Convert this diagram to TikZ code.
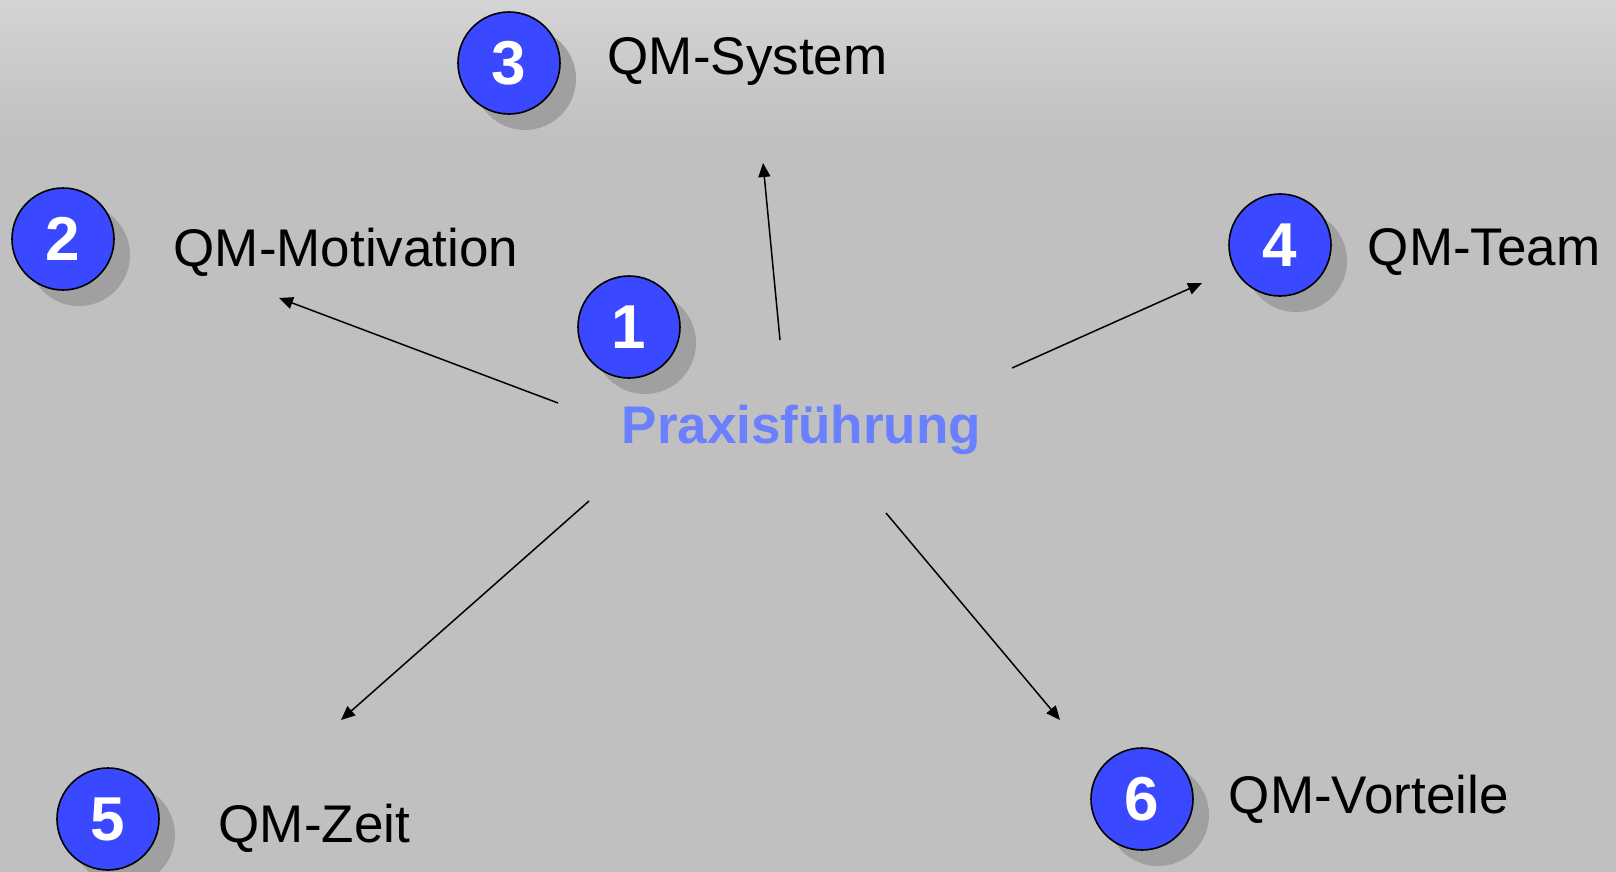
\documentclass[tikz,border=0pt]{standalone}
\usepackage{fontspec}
\setmainfont{Liberation Sans}
\usetikzlibrary{graphs,shadows,arrows.meta}
\definecolor{bgtop}{RGB}{212,212,212}
\definecolor{bggray}{RGB}{192,192,192}
\definecolor{numblue}{RGB}{58,72,255}
\definecolor{titleblue}{RGB}{106,128,255}
\definecolor{shadowgray}{RGB}{160,160,160}
\tikzset{
    num/.style ={
        shape=circle,
        draw=black,
        line width=0.8pt,
        fill=numblue,
        text=white,
        font=\fontsize{31}{31}\selectfont\bfseries,
        inner sep=0pt,
        minimum size=51pt,
        drop shadow={shadow xshift=8pt,shadow yshift=-8pt,fill=shadowgray,opacity=1}
    },
    topic/.style ={
        anchor=base west,
        inner sep=0pt,
        font=\fontsize{26.5}{30}\selectfont
    }
}

\begin{document}
\begin{tikzpicture}[x=0.5pt,y=-0.5pt,>={Triangle[length=7pt,width=6pt]},line width=0.75pt]
    \fill[bggray] (0,0) rectangle (1616,872);
    \shade[top color=bgtop,bottom color=bggray] (0,0) rectangle (1616,140);
    \useasboundingbox (0,0) rectangle (1616,872);
    \node[num] (1) at (629,327) {1};
    \node[num] (2) at (63,239) {2};
    \node[num] (3) at (509,63) {3};
    \node[num] (4) at (1280,245) {4};
    \node[num] (5) at (108,819) {5};
    \node[num] (6) at (1142,799) {6};
    \node[topic] (system) at (607,75) {QM-System};
    \node[topic] (motivation) at (173,266) {QM-Motivation};
    \node[topic] (team) at (1367,265) {QM-Team};
    \node[topic] (zeit) at (218,842) {QM-Zeit};
    \node[topic] (vorteile) at (1228,813) {QM-Vorteile};
    \node[topic,font=\fontsize{26.5}{30}\selectfont\bfseries,text=titleblue] (praxis) at (621,443) {Praxisführung};
    % free ends of the arrows
    \coordinate (s2) at (558,403);
    \coordinate (e2) at (279,298);
    \coordinate (s3) at (780,340);
    \coordinate (e3) at (763,163);
    \coordinate (s4) at (1012,368);
    \coordinate (e4) at (1202,283);
    \coordinate (s5) at (589,501);
    \coordinate (e5) at (341,720);
    \coordinate (s6) at (886,513);
    \coordinate (e6) at (1060,720);
    \graph{
        (s2)->(e2);
        (s3)->(e3);
        (s4)->(e4);
        (s5)->(e5);
        (s6)->(e6);
    };
\end{tikzpicture}
\end{document}
